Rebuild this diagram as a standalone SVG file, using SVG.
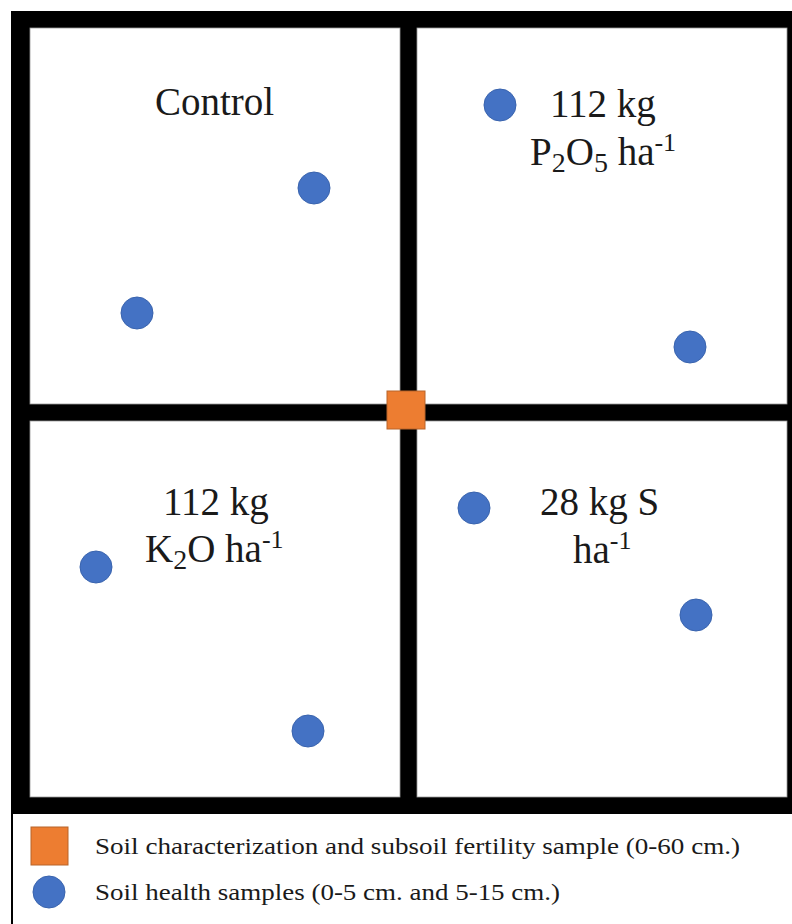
<svg xmlns="http://www.w3.org/2000/svg" width="792" height="924" viewBox="0 0 792 924">
<style>
.lbl{font-family:"Liberation Serif","Times New Roman",serif;font-size:39px;fill:#1a1a1a}
.sub{font-size:28px}
.sup{font-size:26px}
.leg{font-family:"Liberation Serif","Times New Roman",serif;font-size:23px;fill:#1a1a1a}
.dot{fill:#4472C4;stroke:#3A64AE;stroke-width:1}
.sq{fill:#ED7D31;stroke:#B8642A;stroke-width:1}
.panel{fill:#fff;stroke:#999;stroke-width:0.8}
</style>
<rect width="792" height="924" fill="#fff"/>
<g id="frame">
<rect x="11" y="11" width="781" height="803" fill="#000"/>
<rect x="11" y="813" width="2" height="111" fill="#000"/>
</g>
<g id="plot-control">
<rect class="panel" x="30" y="28" width="370" height="376"/>
<text class="lbl" x="155" y="115">Control</text>
<circle class="dot" cx="314" cy="188" r="16"/>
<circle class="dot" cx="137" cy="313" r="16"/>
</g>
<g id="plot-p">
<rect class="panel" x="417" y="28" width="370" height="376"/>
<text class="lbl" x="550" y="117">112 kg</text>
<text class="lbl" x="530" y="165">P<tspan class="sub" dy="7">2</tspan><tspan dy="-7">O</tspan><tspan class="sub" dy="7">5</tspan><tspan dy="-7"> ha</tspan><tspan class="sup" dy="-14">-1</tspan></text>
<circle class="dot" cx="500" cy="105" r="16"/>
<circle class="dot" cx="690" cy="347" r="16"/>
</g>
<g id="plot-k">
<rect class="panel" x="30" y="421" width="370" height="376"/>
<text class="lbl" x="163" y="515">112 kg</text>
<text class="lbl" x="145" y="562">K<tspan class="sub" dy="7">2</tspan><tspan dy="-7">O ha</tspan><tspan class="sup" dy="-14">-1</tspan></text>
<circle class="dot" cx="96" cy="567" r="16"/>
<circle class="dot" cx="308" cy="731" r="16"/>
</g>
<g id="plot-s">
<rect class="panel" x="417" y="421" width="370" height="376"/>
<text class="lbl" x="540" y="515">28 kg S</text>
<text class="lbl" x="573" y="563">ha<tspan class="sup" dy="-14">-1</tspan></text>
<circle class="dot" cx="474" cy="508" r="16"/>
<circle class="dot" cx="696" cy="615" r="16"/>
</g>
<g id="center-sample">
<rect class="sq" x="387" y="391" width="38" height="38"/>
</g>
<g id="connectors"></g>
<g id="legend">
<rect class="sq" x="31" y="827" width="37" height="38"/>
<text class="leg" x="95" y="854" textLength="645" lengthAdjust="spacingAndGlyphs">Soil characterization  and subsoil fertility sample (0-60 cm.)</text>
<circle class="dot" cx="49" cy="892" r="16"/>
<text class="leg" x="95" y="900" textLength="465" lengthAdjust="spacingAndGlyphs">Soil health samples (0-5 cm. and 5-15 cm.)</text>
</g>
</svg>
